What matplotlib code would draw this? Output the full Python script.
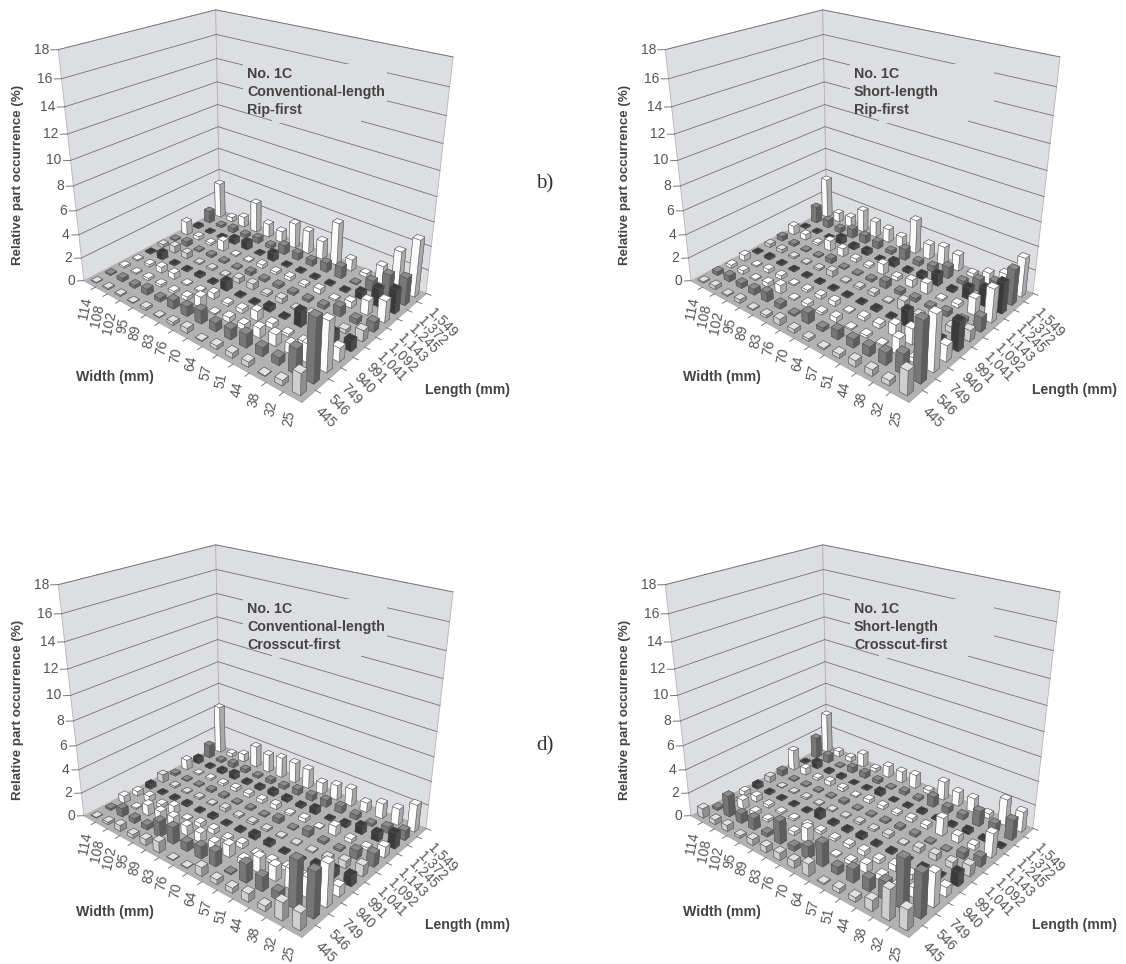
import numpy as np
import matplotlib
matplotlib.use("Agg")
import matplotlib.pyplot as plt
from matplotlib.patches import Rectangle
from mpl_toolkits.mplot3d import proj3d
from mpl_toolkits.mplot3d.art3d import Poly3DCollection

plt.rcParams["font.family"] = ["Liberation Sans", "DejaVu Sans"]

WIDTH_LABELS = ["114", "108", "102", "95", "89", "83", "76", "70", "64", "57", "51", "44", "38", "32", "25"]
LENGTH_LABELS = ["445", "546", "749", "940", "991", "1,041", "1,092", "1,143", "1,245", "1,372", "1,549"]
Z_TICKS = [0, 2, 4, 6, 8, 10, 12, 14, 16, 18]

# one list per length (445 -> 1,549), values run along the widths 114 -> 25
RIP_CONV = [
    [.05, .1, .1, .05, .2, .05, .25, .4, .05, .3, .4, .4, .05, .4, 1.7],
    [.1, .3, .25, .5, .3, .7, .8, 1.1, .7, .85, 1.1, .7, .6, 2, 5],
    [.15, .1, .2, .2, .2, .3, .9, .1, .4, .45, .8, .95, .8, 1.5, 4],
    [.1, .2, .5, .5, .1, .1, .5, .2, .35, .8, .4, .2, .2, .4, 1.1],
    [.1, .6, .1, .1, .2, .1, .8, .1, .1, .4, .1, 1.3, .3, .85, .85],
    [.25, .6, .5, .1, .15, .1, .4, .5, .2, .4, .1, .3, .1, .3, .9],
    [.1, .4, .1, .2, .15, .1, .3, .2, .25, .2, .2, .3, .8, .4, .8],
    [1.2, .3, .2, .9, .1, .1, .3, .2, .3, .2, .4, .1, .5, 1.2, 1.8],
    [.2, .1, .1, .5, .7, .1, .7, .1, .1, .1, .1, .1, .6, 1.5, 2],
    [1.1, .2, .4, .3, .5, .3, .8, .6, .5, .8, 1, .1, .9, 2, 2.3],
    [3.2, .4, .9, 2.7, 1.2, 1, 2.2, 2, 1.6, 3.7, 1, .3, 1.5, 3.3, 4.8],
]
RIP_SHORT = [
    [.1, .3, .1, .3, .1, .2, .5, .3, .2, .1, .3, .5, .5, .4, 1.9],
    [.3, .5, .4, .5, .8, .4, .15, .9, .3, .75, .7, .75, 1, 1.6, 4.8],
    [.25, .3, .1, .35, .7, .1, .3, .2, .4, .1, .2, .1, 1.3, .35, 4.5],
    [.5, .1, .3, .3, .1, .2, .3, .4, .1, .3, .35, .95, 1.3, .3, 1.3],
    [.1, .2, .1, .1, .1, .1, .1, .1, .1, .2, .1, 1.35, .2, .3, 2.4],
    [.3, .3, .15, .1, .15, .5, .1, .2, .3, .1, .8, .2, .1, .5, .9],
    [.4, .2, .1, .1, .4, .1, .1, .2, .6, .3, .3, .2, .4, .3, 1.2],
    [.8, .5, .2, .9, .7, .3, .2, .9, .3, .6, .9, .1, .3, 1.4, 2.8],
    [.1, .1, .05, .6, .3, .4, .1, .5, .2, .4, 1, .2, 1, 1.5, 2.6],
    [1.5, .7, .4, .8, .7, .6, .3, 1, .4, .5, 1, .3, 1, 1.4, 3],
    [3.6, .8, .9, 2, 1.4, 1.2, 1, 3, 1.3, 1.6, 1.4, .3, .9, 1.4, 3.3],
]
CROSS_CONV = [
    [.05, .2, .5, .3, .5, .9, .05, .05, .7, .4, .4, .65, .4, 1.4, 1.35],
    [.15, .7, .4, .4, 1.3, 1.4, .7, 1, 1.2, .1, 1.5, 1.15, .65, 3.8, 3.6],
    [.6, .1, .9, .9, 1, .8, .8, .6, 1, .45, 1.25, 1.2, 1.6, 1.6, 3.4],
    [.4, .5, .3, .7, .1, .35, .4, .2, .4, .1, .2, .3, .2, .35, .8],
    [.4, .1, .15, .2, .1, .2, .1, .15, .4, .3, .1, .1, .4, .7, .85],
    [.7, .15, .1, .15, .1, .3, .15, .2, .15, .1, .1, .1, .2, .6, .9],
    [.2, .1, .1, .2, .2, .1, .15, .1, .4, .1, .5, .2, .15, .7, 1.1],
    [.9, .1, .15, .2, .3, .3, .3, .4, .15, .3, .05, .8, .3, .2, .9],
    [.5, .15, .3, .5, .2, .25, .4, .3, .2, .5, .1, .3, .7, .7, 1.3],
    [1.2, .2, .4, .3, .2, .3, .3, .5, .5, .6, .6, .4, .2, .5, .8],
    [4.3, .3, .7, 1.9, 1.6, 1.8, 1.8, 1.7, 1, 1.3, 1.5, .8, 1.3, 1.4, 2.3],
]
CROSS_SHORT = [
    [.8, .4, .5, .2, .5, .5, .6, .6, 1, .1, .35, .35, .85, 2.4, 1.6],
    [.2, 1.8, .8, 1, .3, 1.9, .4, 1, 1.9, .6, 1.1, 1, 1.45, 3.9, 3.5],
    [.3, .8, .3, .2, .2, .3, 1.2, .4, .1, .3, .7, .45, .3, .75, 2.7],
    [.4, .5, .25, .15, .15, .15, .25, .2, .3, .4, .3, .5, .4, .6, .75],
    [.4, .15, .1, .1, .1, .6, .2, .2, .3, .15, .15, .1, .1, .1, 1.1],
    [.5, .05, .1, .15, .1, .1, .1, .2, .15, .3, .1, .4, .5, .5, .9],
    [.5, .1, .1, .1, .1, .2, .1, .1, .15, .2, .2, .1, .05, .5, .8],
    [1.8, .6, .2, .4, .3, .1, .3, .3, .2, .3, .3, 1.5, .6, .4, 2],
    [.1, .6, .2, .2, .05, .1, .4, .05, .1, .2, .1, .15, .3, .15, .1],
    [1.9, .7, .1, .5, .5, .3, .1, .3, .2, .9, .5, .4, 1.3, .8, 1.7],
    [3.6, .5, .4, 1.2, .3, 1, 1, 1.2, .3, 1.6, 1.2, 1.2, .4, 2.2, 1.7],
]

# top, left, right face colours per series
LIGHT = ("#e2e2e2", "#cfcfcf", "#8f8f8f")
MID = ("#8c8c8c", "#777777", "#5e5e5e")
WHITE = ("#ffffff", "#fbfbfb", "#a9a9a9")
DARK = ("#3c3c3c", "#3a3a3a", "#4c4c4c")
SERIES_COLORS = [LIGHT, MID, WHITE, WHITE, DARK, LIGHT, MID, WHITE, DARK, MID, WHITE]

WALL = "#dddee1"
FLOOR = "#b2b2b2"
GRID = "#727273"
TEXT = "#444444"
TICK_TEXT = "#555555"

FIG_W, FIG_H = 1126, 964
ELEV, AZIM, FOCAL = 25.184, -49.718, 0.3242
ASPECT = (1.3526, 1, 1.1766)
SCALE, TX, TY = 2351.41, 252.59, 178.42


def px(x, y):
    return x / FIG_W, 1 - y / FIG_H


def draw_panel(fig, values, lines, dx, dy):
    left = TX + dx - 0.095 * SCALE
    top = TY + dy - 0.09 * SCALE
    side = 0.185 * SCALE
    ax = fig.add_axes([left / FIG_W, 1 - (top + side) / FIG_H, side / FIG_W, side / FIG_H], projection="3d")
    ax.set_axis_off()
    ax.patch.set_alpha(0)
    ax.computed_zorder = False
    ax.set_xlim(-0.5, 14.5, view_margin=0)
    ax.set_ylim(-0.5, 10.5, view_margin=0)
    ax.set_zlim(0, 18, view_margin=0)
    ax.view_init(ELEV, AZIM)
    ax.set_proj_type("persp", focal_length=FOCAL)
    ax.set_box_aspect(ASPECT)

    x0, x1, y0, y1, ztop = -0.5, 14.5, -0.5, 10.5, 18
    ax.add_collection3d(Poly3DCollection(
        [[(x0, y0, 0), (x0, y1, 0), (x0, y1, ztop), (x0, y0, ztop)],
         [(x0, y1, 0), (x1, y1, 0), (x1, y1, ztop), (x0, y1, ztop)]],
        facecolor=WALL, edgecolor="#b4b4b6", linewidth=0.6, zorder=1))
    ax.add_collection3d(Poly3DCollection(
        [[(x0, y0, 0), (x1, y0, 0), (x1, y1, 0), (x0, y1, 0)]],
        facecolor=FLOOR, edgecolor="#a5a5a5", linewidth=0.5, zorder=2))

    for z in Z_TICKS[1:]:
        ax.plot([x0, x0, x1], [y0, y1, y1], [z, z, z], color=GRID, lw=0.6, zorder=3)

    M = ax.get_proj()

    def label(text, point, offset, **kw):
        xs, ys, _ = proj3d.proj_transform(*point, M)
        ax.annotate(text, (xs, ys), xytext=(offset[0] * 0.72, offset[1] * 0.72), xycoords="data",
                    textcoords="offset points", annotation_clip=False, color=TICK_TEXT,
                    fontsize=10, zorder=5000, **kw)

    for z in Z_TICKS:
        ax.plot([x0, x0 - 0.25], [y0, y0 - 0.25], [z, z], color="#777777", lw=0.7, zorder=3)
        label(str(z), (x0, y0, z), (-9, 0), ha="right", va="center")
    for i, text in enumerate(WIDTH_LABELS):
        ax.plot([i + 0.5, i + 0.5], [y0, y0 - 0.3], [0, 0], color="#777777", lw=0.7, zorder=3)
        label(text, (i, y0, 0), (-2, -14), ha="right", va="center", rotation=78, rotation_mode="anchor")
    for j, text in enumerate(LENGTH_LABELS):
        ax.plot([x1, x1 + 0.3], [j + 0.5, j + 0.5], [0, 0], color="#777777", lw=0.7, zorder=3)
        label(text, (x1, j, 0), (9, -13), ha="left", va="center", rotation=-45, rotation_mode="anchor")

    # painter's order: farthest row first so nearer bars cover it
    order = 10
    size = 0.44
    for j in range(10, -1, -1):
        top_c, left_c, right_c = SERIES_COLORS[j]
        # faces come in the order -z, +z, -y, +y, -x, +x
        faces = [left_c, top_c, left_c, left_c, left_c, right_c]
        for i in range(15):
            ax.bar3d(i - size / 2, j - size / 2, 0, size, size, values[j][i], color=faces, shade=False,
                     edgecolor="#555555", linewidth=0.35, zorder=order)
            order += 1

    # label block, the gridlines stop around it
    fig.add_artist(Rectangle(px(243 + dx, 109 + dy), 144 / FIG_W, 45 / FIG_H, transform=fig.transFigure,
                             facecolor=WALL, edgecolor="none", zorder=20))
    fig.add_artist(Rectangle(px(272 + dx, 123 + dy), 89 / FIG_W, 14 / FIG_H, transform=fig.transFigure,
                             facecolor=WALL, edgecolor="none", zorder=20))
    for k, text in enumerate(lines):
        x, y = px(247 + dx, 74 + k * 18 + dy)
        fig.text(x, y, text, fontsize=10.3, fontweight="bold", color=TEXT, va="center", zorder=21)

    x, y = px(18 + dx, 175 + dy)
    fig.text(x, y, "Relative part occurrence (%)", fontsize=9.6, fontweight="bold", color=TEXT,
             rotation=90, ha="center", va="center")
    x, y = px(76 + dx, 377 + dy)
    fig.text(x, y, "Width (mm)", fontsize=10.2, fontweight="bold", color=TEXT, va="center")
    x, y = px(425 + dx, 390 + dy)
    fig.text(x, y, "Length (mm)", fontsize=10.1, fontweight="bold", color=TEXT, va="center")


def main():
    fig = plt.figure(figsize=(FIG_W / 100, FIG_H / 100), dpi=100, facecolor="white")
    draw_panel(fig, RIP_CONV, ["No. 1C", "Conventional-length", "Rip-first"], 0, 0)
    draw_panel(fig, RIP_SHORT, ["No. 1C", "Short-length", "Rip-first"], 607, 0)
    draw_panel(fig, CROSS_CONV, ["No. 1C", "Conventional-length", "Crosscut-first"], 0, 535)
    draw_panel(fig, CROSS_SHORT, ["No. 1C", "Short-length", "Crosscut-first"], 607, 535)

    for text, y in (("b)", 184), ("d)", 746)):
        x, yy = px(545, y)
        fig.text(x, yy, text, fontsize=15, family="Liberation Serif", color="#333333", ha="center", va="center")

    fig.savefig("out.png", dpi=100)


if __name__ == "__main__":
    main()
